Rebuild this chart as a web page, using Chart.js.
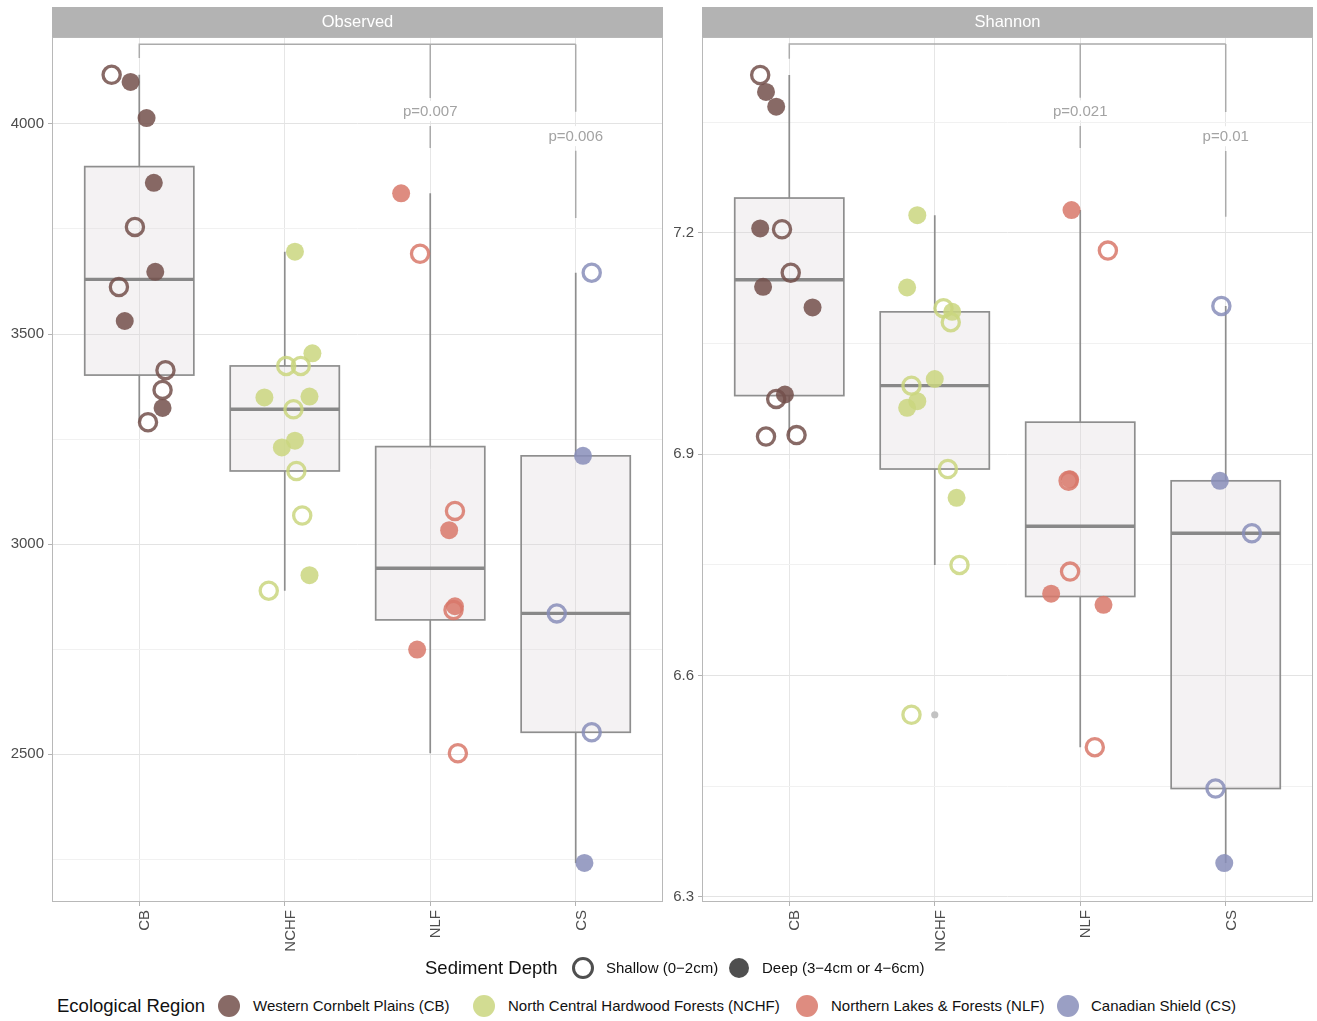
<!DOCTYPE html>
<html>
<head>
<meta charset="utf-8">
<title>Alpha diversity by ecological region</title>
<script src="https://cdn.jsdelivr.net/npm/chart.js@4/dist/chart.umd.min.js"></script>
<style>
  body { margin: 0; background: #fff; width: 1317px; height: 1021px; position: relative; overflow: hidden;
         font-family: "Liberation Sans", Arial, sans-serif; }
  canvas { position: absolute; top: 0; }
  #observedChart { left: 0; }
  #shannonChart { left: 664px; }
  .lg { position: absolute; white-space: nowrap; color: #111; height: 24px; line-height: 24px; }
  .dot { position: absolute; border-radius: 50%; box-sizing: border-box; }
</style>
</head>
<body>
<canvas id="observedChart" width="668" height="960"></canvas>
<canvas id="shannonChart" width="653" height="960"></canvas>
<div id="legend"></div>
<script>
// Ecological regions (x categories) and their colours
const regionCodes = ['CB', 'NCHF', 'NLF', 'CS'];
const regionNames = ['Western Cornbelt Plains (CB)', 'North Central Hardwood Forests (NCHF)',
                     'Northern Lakes & Forests (NLF)', 'Canadian Shield (CS)'];
const regionColors = ['rgba(115,80,75,0.85)', 'rgba(202,214,127,0.85)',
                      'rgba(216,120,106,0.85)', 'rgba(136,142,186,0.85)'];
const depthNames = ['Shallow (0\u22122cm)', 'Deep (3\u22124cm or 4\u22126cm)'];

// Observed richness, one list per region; deep flag 1 = deep core, 0 = shallow core
const observedValues = [
  [4117, 4100, 4014, 3860, 3755, 3648, 3612, 3531, 3414, 3367, 3324, 3290],
  [3696, 3454, 3424, 3424, 3349, 3351, 3321, 3246, 3230, 3174, 3068, 2926, 2889],
  [3835, 3691, 3079, 3033, 2852, 2843, 2749, 2502],
  [3646, 3210, 2835, 2552, 2241]
];
const observedDeep = [
  [0, 1, 1, 1, 0, 1, 0, 1, 0, 0, 1, 0],
  [1, 1, 0, 0, 1, 1, 0, 1, 1, 0, 0, 1, 0],
  [1, 0, 0, 1, 1, 0, 1, 0],
  [0, 1, 0, 0, 1]
];
const observedJitter = [
  [-0.19, -0.06, 0.05, 0.10, -0.03, 0.11, -0.14, -0.10, 0.18, 0.16, 0.16, 0.06],
  [0.07, 0.19, 0.01, 0.11, -0.14, 0.17, 0.06, 0.07, -0.02, 0.08, 0.12, 0.17, -0.11],
  [-0.20, -0.07, 0.17, 0.13, 0.17, 0.16, -0.09, 0.19],
  [0.11, 0.05, -0.13, 0.11, 0.06]
];
const observedTicks = [2500, 3000, 3500, 4000];
const observedTickLabels = ['2500', '3000', '3500', '4000'];
const observedMinorTicks = [2250, 2750, 3250, 3750];
const observedRange = [2148, 4207];
// Pairwise tests against CB: bracket height, tip ends, label text and position, gap in the leg
const observedBracketY = 4190;
const observedBracketBaseTip = 4157;
const observedPTargets = [3, 4];
const observedPTipEnds = [3943, 3776];
const observedPLabels = ['p=0.007', 'p=0.006'];
const observedPLabelY = [4031, 3971];
const observedPGaps = [[4062, 3995], [4029, 3936]];

// Shannon diversity, same layout as above
const shannonValues = [
  [7.414, 7.391, 7.371, 7.206, 7.205, 7.146, 7.127, 7.099, 6.981, 6.975, 6.924, 6.926],
  [7.224, 7.126, 7.098, 7.093, 7.079, 7.002, 6.993, 6.972, 6.963, 6.880, 6.841, 6.750, 6.547],
  [7.231, 7.176, 6.866, 6.864, 6.741, 6.711, 6.696, 6.503],
  [7.101, 6.864, 6.793, 6.447, 6.346]
];
const shannonDeep = [
  [0, 1, 1, 1, 0, 0, 1, 1, 1, 0, 0, 0],
  [1, 1, 0, 1, 0, 1, 0, 1, 1, 0, 1, 0, 0],
  [1, 0, 1, 0, 0, 1, 1, 0],
  [0, 1, 0, 0, 1]
];
const shannonJitter = [
  [-0.20, -0.16, -0.09, -0.20, -0.05, 0.01, -0.18, 0.16, -0.03, -0.09, -0.16, 0.05],
  [-0.12, -0.19, 0.06, 0.12, 0.11, 0.00, -0.16, -0.12, -0.19, 0.09, 0.15, 0.17, -0.16],
  [-0.06, 0.19, -0.07, -0.08, -0.07, -0.20, 0.16, 0.10],
  [-0.03, -0.04, 0.18, -0.07, -0.01]
];
const shannonTicks = [6.3, 6.6, 6.9, 7.2];
const shannonTickLabels = ['6.3', '6.6', '6.9', '7.2'];
const shannonMinorTicks = [6.45, 6.75, 7.05, 7.35];
const shannonRange = [6.2932, 7.4655];
const shannonBracketY = 7.456;
const shannonBracketBaseTip = 7.436;
const shannonPTargets = [3, 4];
const shannonPTipEnds = [7.315, 7.222];
const shannonPLabels = ['p=0.021', 'p=0.01'];
const shannonPLabelY = [7.366, 7.331];
const shannonPGaps = [[7.383, 7.345], [7.364, 7.311]];

const FONT = '"Liberation Sans", Arial, sans-serif';
Chart.defaults.font.family = FONT;

// Tukey box statistics (type-7 quantiles, 1.5 IQR whiskers)
function quantile7(s, p) {
  const h = (s.length - 1) * p, lo = Math.floor(h), hi = Math.min(lo + 1, s.length - 1);
  return s[lo] + (h - lo) * (s[hi] - s[lo]);
}
function boxStats(vals) {
  const s = [...vals].sort((a, b) => a - b);
  const q1 = quantile7(s, 0.25), med = quantile7(s, 0.5), q3 = quantile7(s, 0.75);
  const iqr = q3 - q1, lo = q1 - 1.5 * iqr, hi = q3 + 1.5 * iqr;
  const inside = s.filter(v => v >= lo && v <= hi);
  return { q1, med, q3, wLo: inside[0], wHi: inside[inside.length - 1],
           out: s.filter(v => v < lo || v > hi) };
}

function drawPanel(canvasId, p) {
  const datasets = [];
  p.values.forEach((vals, r) => {
    [1, 0].forEach(d => {
      const pts = [];
      vals.forEach((v, i) => { if (p.deep[r][i] === d) pts.push({ x: r + 1 + p.jitter[r][i], y: v }); });
      datasets.push({
        label: regionCodes[r] + (d ? ' deep' : ' shallow'),
        data: pts,
        pointStyle: 'circle',
        pointRadius: d ? 9 : 8.6,
        pointHoverRadius: d ? 9 : 8.6,
        pointBorderWidth: d ? 0 : 3.3,
        pointBackgroundColor: d ? regionColors[r] : 'rgba(0,0,0,0)',
        pointBorderColor: regionColors[r]
      });
    });
  });
  const stats = p.values.map(boxStats);
  const near = (a, b) => Math.abs(a - b) < 1e-9;
  const isMajor = v => p.ticks.some(t => near(t, v));

  // boxes, whiskers and outliers sit under the jittered points
  const boxPlugin = {
    id: 'boxes',
    beforeDatasetsDraw(chart) {
      const { ctx, scales: { x, y } } = chart;
      ctx.save();
      stats.forEach((s, r) => {
        const c = r + 1;
        const cx = x.getPixelForValue(c);
        const x0 = x.getPixelForValue(c - 0.375), x1 = x.getPixelForValue(c + 0.375);
        ctx.strokeStyle = '#8E8E8E';
        ctx.lineWidth = 1.7;
        ctx.beginPath();
        ctx.moveTo(cx, y.getPixelForValue(s.q3)); ctx.lineTo(cx, y.getPixelForValue(s.wHi));
        ctx.moveTo(cx, y.getPixelForValue(s.q1)); ctx.lineTo(cx, y.getPixelForValue(s.wLo));
        ctx.stroke();
        const yt = y.getPixelForValue(s.q3), yb = y.getPixelForValue(s.q1);
        ctx.fillStyle = 'rgba(220,212,216,0.3)';
        ctx.fillRect(x0, yt, x1 - x0, yb - yt);
        ctx.strokeRect(x0, yt, x1 - x0, yb - yt);
        ctx.lineWidth = 3.4;
        ctx.strokeStyle = '#888888';
        const ym = y.getPixelForValue(s.med);
        ctx.beginPath(); ctx.moveTo(x0, ym); ctx.lineTo(x1, ym); ctx.stroke();
        ctx.fillStyle = '#C2C2C2';
        s.out.forEach(v => {
          ctx.beginPath(); ctx.arc(cx, y.getPixelForValue(v), 3.6, 0, Math.PI * 2); ctx.fill();
        });
      });
      ctx.restore();
    },
    // significance brackets and p-value labels
    afterDatasetsDraw(chart) {
      const { ctx, scales: { x, y } } = chart;
      ctx.save();
      ctx.strokeStyle = '#ABABAB';
      ctx.lineWidth = 1.5;
      const yTop = y.getPixelForValue(p.bracketY);
      const xBase = x.getPixelForValue(1);
      ctx.beginPath();
      ctx.moveTo(xBase, y.getPixelForValue(p.bracketBaseTip));
      ctx.lineTo(xBase, yTop);
      ctx.lineTo(x.getPixelForValue(Math.max(...p.pTargets)), yTop);
      ctx.stroke();
      p.pTargets.forEach((t, k) => {
        const tx = x.getPixelForValue(t);
        ctx.beginPath();
        ctx.moveTo(tx, yTop); ctx.lineTo(tx, y.getPixelForValue(p.pGaps[k][0]));
        ctx.moveTo(tx, y.getPixelForValue(p.pGaps[k][1])); ctx.lineTo(tx, y.getPixelForValue(p.pTipEnds[k]));
        ctx.stroke();
      });
      ctx.font = '15px ' + FONT;
      ctx.textAlign = 'center';
      ctx.textBaseline = 'middle';
      p.pTargets.forEach((t, k) => {
        const tx = x.getPixelForValue(t), ty = y.getPixelForValue(p.pLabelY[k]);
        const w = ctx.measureText(p.pLabels[k]).width + 12;
        ctx.fillStyle = '#FFFFFF';
        ctx.fillRect(tx - w / 2, ty - 10, w, 20);
        ctx.fillStyle = '#A3A3A3';
        ctx.fillText(p.pLabels[k], tx, ty + 1);
      });
      ctx.restore();
    },
    // panel frame and facet strip
    afterDraw(chart) {
      const { ctx, chartArea: a } = chart;
      ctx.save();
      ctx.strokeStyle = '#B8B8B8';
      ctx.lineWidth = 1;
      ctx.strokeRect(a.left + 0.5, a.top + 0.5, a.right - a.left - 1, a.bottom - a.top - 1);
      ctx.fillStyle = '#B3B3B3';
      ctx.fillRect(a.left, 7, a.right - a.left, a.top - 7);
      ctx.fillStyle = '#FFFFFF';
      ctx.font = '16.5px ' + FONT;
      ctx.textAlign = 'center';
      ctx.textBaseline = 'middle';
      ctx.fillText(p.title, (a.left + a.right) / 2, 22);
      ctx.restore();
    }
  };

  new Chart(document.getElementById(canvasId), {
    type: 'scatter',
    data: { datasets },
    plugins: [boxPlugin],
    options: {
      responsive: false,
      devicePixelRatio: 1,
      animation: false,
      events: [],
      layout: { autoPadding: false, padding: { left: 0, right: p.padRight, top: 37, bottom: 0 } },
      plugins: { legend: { display: false }, tooltip: { enabled: false } },
      scales: {
        x: {
          type: 'linear', min: 0.4, max: 4.6,
          afterFit: s => { s.height = 58; s.paddingLeft = 0; s.paddingRight = 0; },
          afterBuildTicks: s => { s.ticks = regionCodes.map((_, i) => ({ value: i + 1 })); },
          ticks: {
            callback: v => regionCodes[Math.round(v) - 1],
            minRotation: 90, maxRotation: 90, autoSkip: false,
            color: '#4D4D4D', font: { size: 15 }, padding: 4, labelOffset: 6
          },
          grid: { color: '#E6E6E6', tickColor: '#B3B3B3', tickLength: 4, lineWidth: 1 },
          border: { display: false }
        },
        y: {
          type: 'linear', min: p.range[0], max: p.range[1],
          afterFit: s => { s.width = p.yAxisWidth; s.paddingTop = 0; s.paddingBottom = 0; },
          afterBuildTicks: s => {
            s.ticks = [...p.minor, ...p.ticks].sort((a, b) => a - b).map(v => ({ value: v }));
          },
          ticks: {
            callback: v => { const k = p.ticks.findIndex(t => near(t, v)); return k >= 0 ? p.tickLabels[k] : ''; },
            color: '#4D4D4D', font: { size: 15 }, padding: 4
          },
          grid: {
            color: c => isMajor(c.tick.value) ? '#E3E3E3' : '#F1F1F1',
            tickColor: c => isMajor(c.tick.value) ? '#B3B3B3' : 'rgba(0,0,0,0)',
            tickLength: 4, lineWidth: 1
          },
          border: { display: false }
        }
      }
    }
  });
}

drawPanel('observedChart', {
  title: 'Observed', values: observedValues, deep: observedDeep, jitter: observedJitter,
  ticks: observedTicks, tickLabels: observedTickLabels, minor: observedMinorTicks, range: observedRange,
  bracketY: observedBracketY, bracketBaseTip: observedBracketBaseTip, pTargets: observedPTargets,
  pTipEnds: observedPTipEnds, pLabels: observedPLabels, pLabelY: observedPLabelY, pGaps: observedPGaps,
  yAxisWidth: 52, padRight: 5
});
drawPanel('shannonChart', {
  title: 'Shannon', values: shannonValues, deep: shannonDeep, jitter: shannonJitter,
  ticks: shannonTicks, tickLabels: shannonTickLabels, minor: shannonMinorTicks, range: shannonRange,
  bracketY: shannonBracketY, bracketBaseTip: shannonBracketBaseTip, pTargets: shannonPTargets,
  pTipEnds: shannonPTipEnds, pLabels: shannonPLabels, pLabelY: shannonPLabelY, pGaps: shannonPGaps,
  yAxisWidth: 38, padRight: 4
});

// Legends below the panels
(function buildLegend() {
  const root = document.getElementById('legend');
  function text(str, x, cy, size) {
    const el = document.createElement('div');
    el.className = 'lg';
    el.textContent = str;
    el.style.left = x + 'px';
    el.style.top = (cy - 12) + 'px';
    el.style.fontSize = size + 'px';
    root.appendChild(el);
  }
  function dot(cx, cy, d, fill, ring) {
    const el = document.createElement('div');
    el.className = 'dot';
    el.style.left = (cx - d / 2) + 'px';
    el.style.top = (cy - d / 2) + 'px';
    el.style.width = d + 'px';
    el.style.height = d + 'px';
    if (ring) { el.style.border = '3.6px solid ' + fill; } else { el.style.background = fill; }
    root.appendChild(el);
  }
  const depthRow = 968, depthDots = [583, 739], depthText = [606, 762];
  text('Sediment Depth', 425, depthRow, 18.5);
  depthNames.forEach((n, i) => {
    dot(depthDots[i], depthRow, i === 0 ? 22 : 20, 'rgba(60,60,60,0.9)', i === 0);
    text(n, depthText[i], depthRow, 15);
  });
  const regionRow = 1006, regionDots = [229, 484, 807, 1068], regionText = [253, 508, 831, 1091];
  text('Ecological Region', 57, regionRow, 18.5);
  regionNames.forEach((n, i) => {
    dot(regionDots[i], regionRow, 22, regionColors[i], false);
    text(n, regionText[i], regionRow, 15);
  });
})();
</script>
</body>
</html>
